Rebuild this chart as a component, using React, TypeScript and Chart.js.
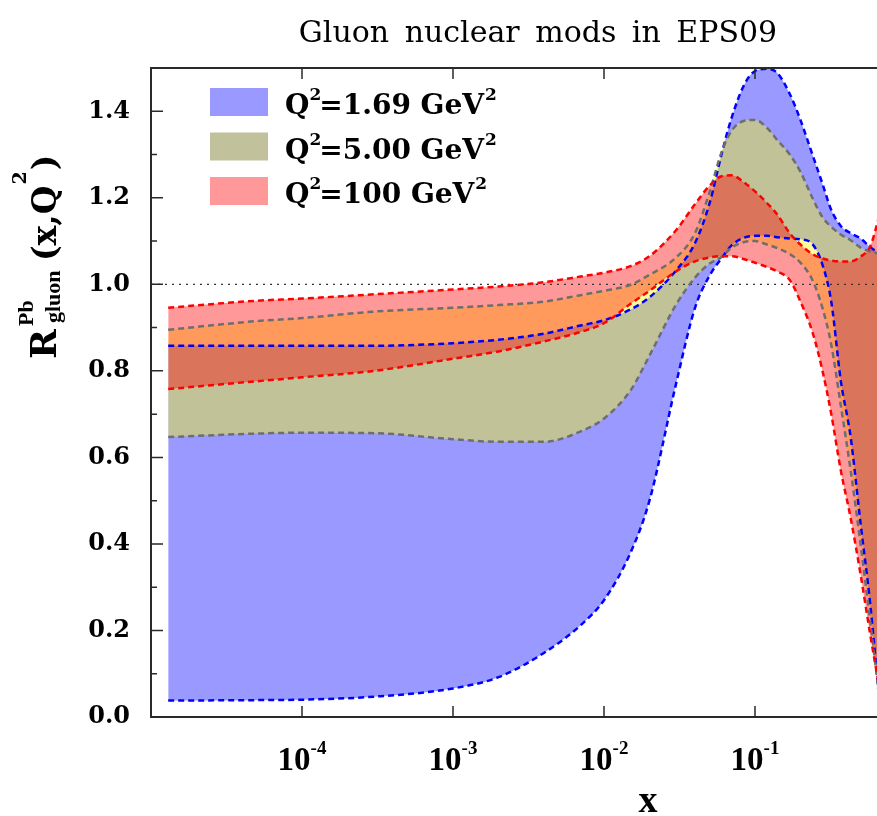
import React, { useEffect, useRef } from 'react';
import { Chart, registerables } from 'chart.js';
Chart.register(...registerables);

// ---- data ----
const X_VALUES = [1.3e-5, 5e-5, 1e-4, 3e-4, 1e-3, 2e-3, 4e-3, 7e-3, 0.01, 0.015, 0.02, 0.03, 0.04, 0.05, 0.06, 0.07, 0.085, 0.1, 0.12, 0.14, 0.17, 0.2, 0.24, 0.28, 0.32, 0.37, 0.43, 0.5, 0.58, 0.68];

const Q169_UPPER = [0.858, 0.858, 0.858, 0.858, 0.864, 0.872, 0.886, 0.905, 0.917, 0.942, 0.970, 1.032, 1.095, 1.187, 1.300, 1.385, 1.462, 1.493, 1.498, 1.489, 1.440, 1.380, 1.300, 1.232, 1.172, 1.135, 1.118, 1.106, 1.086, 1.070];
const Q169_LOWER = [0.038, 0.039, 0.040, 0.047, 0.066, 0.092, 0.148, 0.212, 0.270, 0.380, 0.500, 0.770, 0.945, 1.020, 1.060, 1.090, 1.108, 1.112, 1.112, 1.109, 1.106, 1.104, 1.093, 1.045, 0.960, 0.777, 0.647, 0.448, 0.260, 0.000];

const Q5_UPPER = [0.895, 0.915, 0.922, 0.937, 0.946, 0.952, 0.960, 0.975, 0.985, 0.999, 1.022, 1.062, 1.118, 1.213, 1.305, 1.355, 1.378, 1.380, 1.362, 1.334, 1.300, 1.260, 1.200, 1.155, 1.133, 1.115, 1.102, 1.085, 1.076, 1.070];
const Q5_LOWER = [0.647, 0.655, 0.657, 0.656, 0.642, 0.636, 0.636, 0.660, 0.690, 0.755, 0.835, 0.953, 1.015, 1.048, 1.063, 1.085, 1.098, 1.100, 1.092, 1.084, 1.070, 1.050, 1.010, 0.945, 0.860, 0.720, 0.570, 0.400, 0.220, 0.020];

const Q100_UPPER = [0.946, 0.962, 0.967, 0.977, 0.988, 0.995, 1.005, 1.018, 1.027, 1.042, 1.065, 1.125, 1.185, 1.228, 1.250, 1.252, 1.235, 1.215, 1.188, 1.162, 1.118, 1.092, 1.070, 1.060, 1.055, 1.053, 1.053, 1.064, 1.088, 1.170];
const Q100_LOWER = [0.758, 0.776, 0.785, 0.800, 0.828, 0.845, 0.868, 0.890, 0.910, 0.955, 0.985, 1.030, 1.053, 1.062, 1.065, 1.065, 1.058, 1.050, 1.040, 1.030, 1.010, 0.960, 0.890, 0.800, 0.700, 0.570, 0.460, 0.330, 0.190, 0.050];

const UNITY_X = [1e-5, 1];
const UNITY_Y = [1, 1];

const Y_TICKS = [0, 0.2, 0.4, 0.6, 0.8, 1.0, 1.2, 1.4];
const Y_MINOR = [0.1, 0.3, 0.5, 0.7, 0.9, 1.1, 1.3];
const X_TICKS = [1e-4, 1e-3, 1e-2, 1e-1];
const X_TICK_EXP = ['-4', '-3', '-2', '-1'];

const LEGEND_VALUES = ['1.69', '5.00', '100'];
const LEGEND_COLORS = ['rgb(153,153,255)', 'rgb(193,193,156)', 'rgb(255,153,153)'];

const TITLE = 'Gluon nuclear mods in EPS09';
const X_TITLE = 'x';

const pts = (ys: number[], xs: number[] = X_VALUES) => xs.map((x, i) => ({ x, y: ys[i] }));

const FONT_DV = '"DejaVu Serif"';
const FONT_LS = '"Liberation Serif"';

const decorPlugin = {
  id: 'decor',
  afterDraw(chart: any) {
    const { ctx, chartArea: a, scales } = chart;
    const xs = scales.x;
    const ys = scales.y;
    ctx.save();
    // frame
    ctx.strokeStyle = '#2a2a2a';
    ctx.lineWidth = 2;
    ctx.beginPath();
    ctx.moveTo(a.right + 5, a.top);
    ctx.lineTo(a.left, a.top);
    ctx.lineTo(a.left, a.bottom);
    ctx.lineTo(a.right + 5, a.bottom);
    ctx.stroke();
    // y ticks inward
    ctx.lineWidth = 1.5;
    ctx.beginPath();
    Y_TICKS.forEach((v) => {
      const p = ys.getPixelForValue(v);
      ctx.moveTo(a.left, p);
      ctx.lineTo(a.left + 12, p);
    });
    Y_MINOR.forEach((v) => {
      const p = ys.getPixelForValue(v);
      ctx.moveTo(a.left, p);
      ctx.lineTo(a.left + 6, p);
    });
    // x ticks inward, bottom and top
    X_TICKS.forEach((v) => {
      const p = xs.getPixelForValue(v);
      ctx.moveTo(p, a.bottom);
      ctx.lineTo(p, a.bottom - 11);
      ctx.moveTo(p, a.top);
      ctx.lineTo(p, a.top + 11);
    });
    ctx.stroke();

    // x tick labels 10^k
    ctx.fillStyle = '#000';
    ctx.textBaseline = 'alphabetic';
    ctx.textAlign = 'left';
    X_TICKS.forEach((v, i) => {
      const p = xs.getPixelForValue(v);
      ctx.font = `bold 33px ${FONT_LS}`;
      const wb = ctx.measureText('10').width;
      ctx.font = `bold 19px ${FONT_LS}`;
      const we = ctx.measureText(X_TICK_EXP[i]).width;
      const x0 = p - (wb + we) / 2;
      ctx.font = `bold 33px ${FONT_LS}`;
      ctx.fillText('10', x0, a.bottom + 53);
      ctx.font = `bold 19px ${FONT_LS}`;
      ctx.fillText(X_TICK_EXP[i], x0 + wb, a.bottom + 37);
    });

    // x axis title
    ctx.font = `bold 38px ${FONT_LS}`;
    ctx.textAlign = 'center';
    ctx.fillText(X_TITLE, 648, 812);

    // title
    ctx.font = `30px ${FONT_DV}`;
    (ctx as any).wordSpacing = '6px';
    ctx.fillText(TITLE, 538, 42);
    (ctx as any).wordSpacing = '0px';

    // y axis title (rotated)
    ctx.save();
    ctx.translate(56, 359);
    ctx.rotate(-Math.PI / 2);
    ctx.textAlign = 'left';
    ctx.font = `bold 36px ${FONT_DV}`;
    ctx.fillText('R', 0, 0);
    ctx.font = `bold 22px ${FONT_LS}`;
    ctx.fillText('Pb', 33, -23);
    ctx.fillText('gluon', 36, 4);
    ctx.font = `bold 33px ${FONT_DV}`;
    const s1 = '(x,Q';
    ctx.fillText(s1, 98, 0);
    const w1 = ctx.measureText(s1).width;
    ctx.font = `bold 19px ${FONT_DV}`;
    ctx.fillText('2', 98 + w1 + 1, -30);
    const w2 = ctx.measureText('2').width;
    ctx.font = `bold 33px ${FONT_DV}`;
    ctx.fillText(')', 98 + w1 + w2 + 2, 0);
    ctx.restore();

    // legend
    LEGEND_VALUES.forEach((val, i) => {
      const top = 88 + i * 44.5;
      ctx.fillStyle = LEGEND_COLORS[i];
      ctx.fillRect(210, top, 58, 28);
      ctx.fillStyle = '#000';
      ctx.textAlign = 'left';
      let x = 285;
      const base = top + 26;
      ctx.font = `bold 28px ${FONT_DV}`;
      ctx.fillText('Q', x, base);
      x += ctx.measureText('Q').width;
      ctx.font = `bold 17px ${FONT_DV}`;
      ctx.fillText('2', x, base - 14);
      x += ctx.measureText('2').width - 2;
      const t = `=${val} GeV`;
      ctx.font = `bold 28px ${FONT_DV}`;
      ctx.fillText(t, x, base);
      x += ctx.measureText(t).width;
      ctx.font = `bold 17px ${FONT_DV}`;
      ctx.fillText('2', x + 1, base - 14);
    });
    ctx.restore();
  },
};

export default function App() {
  const ref = useRef<HTMLCanvasElement>(null);
  useEffect(() => {
    if (!ref.current) return;
    const dash = [6, 4];
    const lineDs = (label: string, ys: number[], color: string, fillColor?: string) => ({
      label,
      data: pts(ys),
      borderColor: color,
      borderWidth: 2.5,
      borderDash: dash,
      pointRadius: 0,
      cubicInterpolationMode: 'monotone' as const,
      fill: fillColor ? '+1' : false,
      backgroundColor: fillColor || 'transparent',
    });
    const chart = new Chart(ref.current, {
      type: 'line',
      data: {
        datasets: [
          lineDs('Q2=100 upper', Q100_UPPER, '#ff0000', 'rgba(255,0,0,0.4)'),
          lineDs('Q2=100 lower', Q100_LOWER, '#ff0000'),
          lineDs('Q2=5.00 upper', Q5_UPPER, '#6e6e6e', 'rgba(255,255,0,0.4)'),
          lineDs('Q2=5.00 lower', Q5_LOWER, '#6e6e6e'),
          lineDs('Q2=1.69 upper', Q169_UPPER, '#0000ff', 'rgba(0,0,255,0.4)'),
          lineDs('Q2=1.69 lower', Q169_LOWER, '#0000ff'),
          {
            label: 'unity',
            data: pts(UNITY_Y, UNITY_X),
            borderColor: '#333',
            borderWidth: 1.3,
            borderDash: [2, 5],
            pointRadius: 0,
            fill: false,
          },
        ],
      },
      options: {
        animation: false,
        responsive: false,
        devicePixelRatio: 1,
        layout: { padding: { top: 68, left: 0, right: 0, bottom: 0 } },
        plugins: {
          legend: { display: false },
          tooltip: { enabled: false },
          filler: { drawTime: 'beforeDatasetsDraw' } as any,
        },
        scales: {
          x: {
            type: 'logarithmic',
            min: 1e-5,
            max: Math.pow(10, -0.192),
            grid: { display: false, drawTicks: false },
            border: { display: false },
            ticks: { display: false },
            afterBuildTicks: (s: any) => {
              s.ticks = X_TICKS.map((v) => ({ value: v }));
            },
            afterFit: (s: any) => {
              s.height = 99;
            },
          },
          y: {
            type: 'linear',
            min: 0,
            max: 1.5,
            grid: { display: false, drawTicks: false },
            border: { display: false },
            afterBuildTicks: (s: any) => {
              s.ticks = Y_TICKS.map((v) => ({ value: v }));
            },
            ticks: {
              color: '#000',
              padding: 21,
              font: { family: FONT_DV, weight: 'bold', size: 24 },
              callback: (v: any) => Number(v).toFixed(1),
            },
            afterFit: (s: any) => {
              s.width = 151;
            },
          },
        },
      },
      plugins: [decorPlugin],
    });
    return () => chart.destroy();
  }, []);
  return (
    <div style={{ position: 'fixed', left: 0, top: 0, width: 877, height: 816, background: '#fff' }}>
      <canvas ref={ref} width={877} height={816} style={{ display: 'block' }} />
    </div>
  );
}
